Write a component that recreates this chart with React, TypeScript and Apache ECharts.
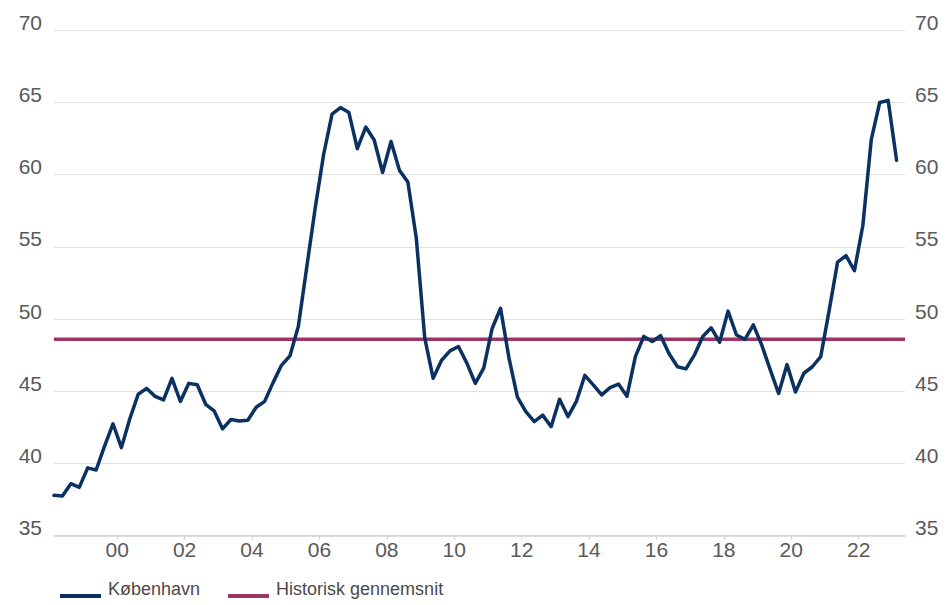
import React, { useEffect, useRef } from "react";
import * as echarts from "echarts";

// Quarterly values, København, 1998K1 – 2023K1
const kobenhavn: number[] = [
  37.8, 37.75, 38.6, 38.35, 39.7, 39.55, 41.2, 42.75, 41.1, 43.1,
  44.8, 45.2, 44.65, 44.4, 45.9, 44.3, 45.55, 45.45, 44.1, 43.65,
  42.4, 43.05, 42.95, 43.0, 43.9, 44.3, 45.6, 46.8, 47.45, 49.5,
  53.6, 57.7, 61.4, 64.2, 64.65, 64.3, 61.8, 63.3, 62.4, 60.15,
  62.3, 60.3, 59.5, 55.6, 48.7, 45.9, 47.15, 47.8, 48.1, 46.95,
  45.55, 46.6, 49.35, 50.75, 47.3, 44.6, 43.6, 42.9, 43.35, 42.55,
  44.45, 43.25, 44.3, 46.1, 45.45, 44.75, 45.25, 45.5, 44.65, 47.4,
  48.8, 48.45, 48.85, 47.6, 46.7, 46.55, 47.5, 48.8, 49.4, 48.4,
  50.55, 48.9, 48.6, 49.6, 48.2, 46.5, 44.85, 46.85, 44.95, 46.25,
  46.7, 47.4, 50.6, 53.95, 54.4, 53.35, 56.5, 62.45, 65.0, 65.15,
  61.0,
];

const historiskGennemsnit = 48.6;
const startYear = 1998;
const quarters: string[] = kobenhavn.map(
  (_, i) => `${startYear + Math.floor(i / 4)}K${(i % 4) + 1}`
);
const tickYears: number[] = [2000, 2002, 2004, 2006, 2008, 2010, 2012, 2014, 2016, 2018, 2020, 2022];
const yTicks = { min: 35, max: 70, interval: 5 };
const xRange = { min: 1998.125, max: 2023.375 };

const seriesNames = ["København", "Historisk gennemsnit"];

function quarterToX(q: string): number {
  const [y, k] = q.split("K");
  return Number(y) + (Number(k) - 1) * 0.25 + 0.125;
}

export default function App() {
  const ref = useRef<HTMLDivElement>(null);

  useEffect(() => {
    if (!ref.current) return;
    const chart = echarts.init(ref.current, undefined, { renderer: "svg" });
    const font = "'Liberation Sans', Arial, sans-serif";
    const labelColor = "#595959";

    const yAxisBase = {
      type: "value" as const,
      min: yTicks.min,
      max: yTicks.max,
      interval: yTicks.interval,
      axisLine: { show: false },
      axisTick: { show: false },
    };

    chart.setOption({
      animation: false,
      backgroundColor: "#ffffff",
      grid: { left: 54, right: 45, top: 30.3, bottom: 69.3, containLabel: false },
      legend: {
        left: 60,
        top: 580,
        padding: 0,
        itemWidth: 41,
        itemHeight: 18,
        itemGap: 28,
        icon: "path://M0,0 L41,0 L41,0.01 L0,0.01 Z M0,14 L41,14 L41,18 L0,18 Z",
        itemStyle: { borderWidth: 0 },
        textStyle: { fontSize: 18, color: "#4a4a4a", fontFamily: font, padding: [0, 0, 0, 2] },
        data: seriesNames,
      },
      xAxis: {
        type: "value",
        min: xRange.min,
        max: xRange.max,
        axisLine: { show: true, lineStyle: { color: "#d6d1cc", width: 1.5 } },
        axisTick: {
          show: true,
          customValues: tickYears,
          length: 4,
          lineStyle: { color: "#d6d1cc", width: 1 },
        },
        axisLabel: {
          customValues: tickYears,
          formatter: (v: number) => String(Math.round(v) % 100).padStart(2, "0"),
          fontSize: 21,
          lineHeight: 21,
          color: labelColor,
          fontFamily: font,
          margin: 3,
        },
        splitLine: { show: false },
      },
      yAxis: [
        {
          ...yAxisBase,
          position: "left",
          splitLine: { show: true, lineStyle: { color: "#e0e0e0", width: 1 } },
          axisLabel: {
            fontSize: 21,
            lineHeight: 16,
            verticalAlign: "bottom",
            color: labelColor,
            fontFamily: font,
            margin: 12,
          },
        },
        {
          ...yAxisBase,
          position: "right",
          splitLine: { show: false },
          axisLabel: {
            fontSize: 21,
            lineHeight: 16,
            verticalAlign: "bottom",
            color: labelColor,
            fontFamily: font,
            margin: 10,
          },
        },
      ],
      series: [
        {
          name: seriesNames[0],
          type: "line",
          data: quarters.map((q, i) => [quarterToX(q), kobenhavn[i]]),
          showSymbol: false,
          symbol: "none",
          color: "#0a3161",
          lineStyle: { width: 3.5, color: "#0a3161", join: "round", cap: "round" },
          z: 3,
        },
        {
          name: seriesNames[1],
          type: "line",
          data: [
            [xRange.min, historiskGennemsnit],
            [xRange.max, historiskGennemsnit],
          ],
          showSymbol: false,
          symbol: "none",
          color: "#9c3466",
          lineStyle: { width: 3.5, color: "#9c3466" },
          z: 2,
        },
      ],
    });

    return () => chart.dispose();
  }, []);

  return (
    <div
      ref={ref}
      style={{ position: "fixed", left: 0, top: 0, width: 950, height: 605, background: "#fff" }}
    />
  );
}
